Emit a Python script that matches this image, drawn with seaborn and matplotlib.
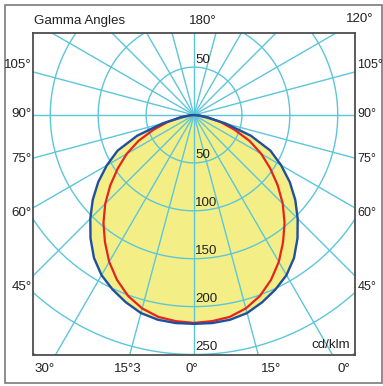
import numpy as np
import pandas as pd
import matplotlib
matplotlib.use("Agg")
import matplotlib.pyplot as plt
import seaborn as sns
from matplotlib.patches import Rectangle

# ----------------------------------
# Data (cd/klm vs gamma angle)
# ----------------------------------

gamma = [0, 5, 10, 15, 20, 25, 30, 35, 40, 45, 50, 55, 60, 65, 70, 75, 80, 85, 90]
blue_cd = [218, 218, 217, 214, 208, 201, 193, 182, 168, 153, 138, 122, 105, 88, 63, 34, 14, 5, 0]
red_cd = [217, 216, 214, 209, 201, 190, 177, 162, 147, 131, 114, 97, 81, 64, 45, 29, 15, 5, 0]

rings = [50, 100, 150, 200, 250, 300]
spokes = list(range(0, 360, 15))

left_labels = ["105°", "90°", "75°", "60°", "45°"]
bottom_labels = ["30°", "15°3", "0°", "15°", "0°"]

# ----------------------------------
# Style
# ----------------------------------

sns.set_style("white")
plt.rcParams["font.family"] = ["Liberation Sans", "DejaVu Sans"]

grid_col = "#5cc6da"
blue_col = "#1f4f9d"
red_col = "#e6231f"
fill_col = "#f3ef86"
txt_col = "#222222"
fs = 9.6


def to_xy(ang, cd):
    # full symmetric curve: left half then right half
    a = np.radians(np.concatenate([-np.array(ang)[::-1], np.array(ang)[1:]]))
    r = np.concatenate([np.array(cd)[::-1], np.array(cd)[1:]])
    return pd.DataFrame({"x": r * np.sin(a), "y": -r * np.cos(a)})


blue = to_xy(gamma, blue_cd)
red = to_xy(gamma, red_cd)

fig = plt.figure(figsize=(3.83, 3.86), dpi=100)
ax = fig.add_axes([33 / 383, 31 / 386, 322 / 383, 322 / 386])

# yellow area
ax.fill(blue["x"], blue["y"], color=fill_col, zorder=1, lw=0)

# polar grid
t = np.linspace(0, 2 * np.pi, 400)
for r in rings:
    ax.plot(r * np.cos(t), r * np.sin(t), color=grid_col, lw=1.0, zorder=2)
for s in spokes:
    a = np.radians(s)
    ax.plot([0, 600 * np.cos(a)], [0, 600 * np.sin(a)], color=grid_col, lw=1.0, zorder=2)

# curves
sns.lineplot(data=blue, x="x", y="y", sort=False, estimator=None,
             color=blue_col, lw=1.7, ax=ax, zorder=4)
sns.lineplot(data=red, x="x", y="y", sort=False, estimator=None,
             color=red_col, lw=1.6, ax=ax, zorder=3)

# ring labels
for r in rings[:5]:
    ax.text(1.5, -r + 1.5, str(r), fontsize=fs, color=txt_col,
            ha="left", va="bottom", zorder=5)
ax.text(1.5, rings[0] + 1.5, str(rings[0]), fontsize=fs, color=txt_col,
        ha="left", va="bottom", zorder=5)

ax.set_xlim(-168, 168)
ax.set_ylim(-250.5, 85.6)
ax.set_xticks([])
ax.set_yticks([])
ax.set_xlabel("")
ax.set_ylabel("")
for sp in ax.spines.values():
    sp.set_visible(True)
    sp.set_color("#4d4d4d")
    sp.set_linewidth(1.3)

ax.text(0.985, 0.012, "cd/klm", transform=ax.transAxes, fontsize=fs,
        color=txt_col, ha="right", va="bottom")

# ----------------------------------
# Outer labels
# ----------------------------------

W, H = 383, 386


def ftxt(px, py, s, ha="center", size=fs):
    fig.text(px / W, 1 - py / H, s, fontsize=size, color=txt_col, ha=ha, va="center")


ftxt(34, 21, "Gamma Angles", ha="left")
ftxt(203, 21, "180°")
ftxt(360, 18.5, "120°")

left_y = [65.5, 114, 159, 213, 287]
for s, y in zip(left_labels, left_y):
    ftxt(31.5, y, s, ha="right")
    ftxt(357.5, y, s, ha="left", size=9.0)

bottom_x = [44.5, 128, 191.5, 271, 343.5]
for s, x in zip(bottom_labels, bottom_x):
    ftxt(x, 369.5, s)

fig.patches.append(Rectangle((5 / W, 3 / H), 376.5 / W, 378 / H, transform=fig.transFigure,
                             fill=False, edgecolor="#7a7a7a", lw=1.2))

fig.savefig("out.png", dpi=100)
plt.close(fig)
